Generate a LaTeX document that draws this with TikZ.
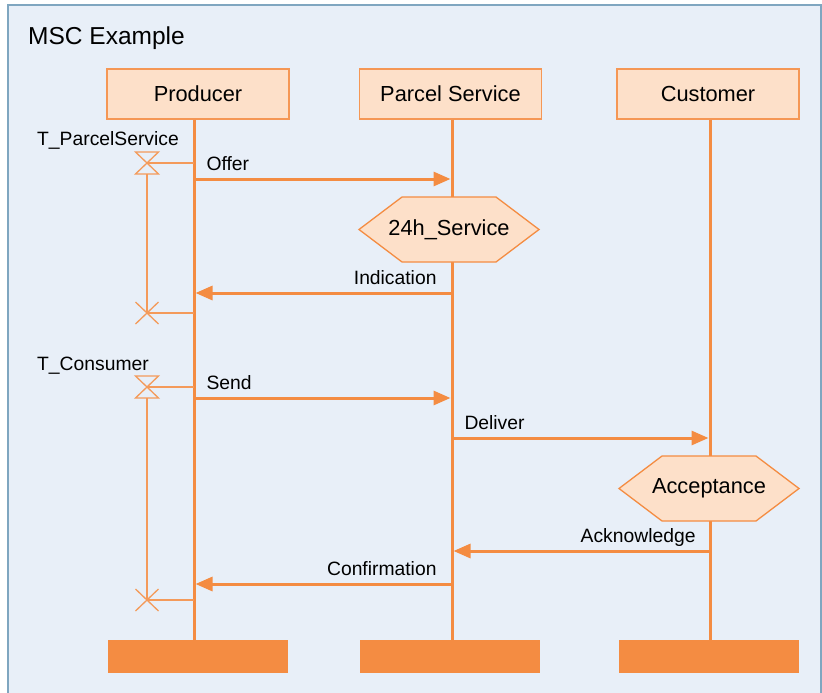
\documentclass[tikz,border=0pt]{standalone}
\usepackage{fontspec}
\setmainfont{Liberation Sans}
\usetikzlibrary{positioning,arrows.meta}

\definecolor{mscbg}{HTML}{E8EFF8}
\definecolor{mscframe}{HTML}{7FA6C0}
\definecolor{mscorange}{HTML}{F48C42}
\definecolor{mscpeach}{HTML}{FDE0C9}
\definecolor{msctimer}{HTML}{F49A5A}

\tikzset{
  head/.style={draw=mscorange!90,fill=mscpeach,line width=1.5pt,minimum width=182,minimum height=50,inner sep=0,font=\fontsize{21.8}{24}\selectfont},
  stop/.style={fill=mscorange,minimum width=180,minimum height=33,inner sep=0},
  life/.style={draw=mscorange,line width=3pt},
  msg/.style={draw=mscorange,line width=3pt,-{Triangle[length=17pt,width=14pt]},shorten >=1.5pt},
  cond/.style={draw=mscorange,fill=mscpeach,line width=1.3pt,line join=miter},
  condtxt/.style={inner sep=0,font=\fontsize{21.8}{24}\selectfont},
  tmr/.style={draw=msctimer,line width=1.3pt},
  lbl/.style={inner sep=0,font=\fontsize{19.3}{22}\selectfont}
}

\begin{document}
\begin{tikzpicture}[x=1pt,y=-1pt]
  \useasboundingbox (0,0) rectangle (822,693);
  \draw[draw=mscframe,fill=mscbg,line width=1.2pt] (8,5) rectangle (821,696);
  \node[anchor=base west,inner sep=0,font=\fontsize{24.5}{28}\selectfont] (title) at (28,45) {MSC Example};

  % instances
  \node[head] (prod) at (198,94) {Producer};
  \node[head] (parc) at (450.5,94) {Parcel Service};
  \node[head] (cust) at (708,94) {Customer};
  \node[stop] (prodE) at (198,656.5) {};
  \node[stop] (parcE) at (450,656.5) {};
  \node[stop] (custE) at (709,656.5) {};
  \coordinate (pl) at (194,0);
  \coordinate (sl) at (452,0);
  \coordinate (cl) at (710,0);
  \draw[life] (prod.south -| pl) -- (prodE.north -| pl);
  \draw[life] (parc.south -| sl) -- (parcE.north -| sl);
  \draw[life] (cust.south -| cl) -- (custE.north -| cl);

  % conditions
  \coordinate (svc) at (449,229.5);
  \coordinate (acc) at (709,488.5);
  \filldraw[cond] (svc) ++(-90,0) -- ++(43,-32.5) -- ++(94,0) -- ++(43,32.5) -- ++(-43,32.5) -- ++(-94,0) -- cycle;
  \filldraw[cond] (acc) ++(-90,0) -- ++(43,-32.5) -- ++(94,0) -- ++(43,32.5) -- ++(-43,32.5) -- ++(-94,0) -- cycle;
  \node[condtxt] (svcT) at (svc) {24h\_Service};
  \node[condtxt] (accT) at (acc) {Acceptance};

  % messages
  \coordinate (p1) at (194,179);  \coordinate (s1) at (452,179);
  \coordinate (s2) at (452,293);  \coordinate (p2) at (194,293);
  \coordinate (p3) at (194,398);  \coordinate (s3) at (452,398);
  \coordinate (s4) at (452,438);  \coordinate (c4) at (710,438);
  \coordinate (c5) at (710,551);  \coordinate (s5) at (452,551);
  \coordinate (s6) at (452,584);  \coordinate (p6) at (194,584);
  \draw[msg] (p1) -- (s1) node[lbl,pos=0,anchor=base west,xshift=11pt,yshift=9pt] {Offer};
  \draw[msg] (s2) -- (p2) node[lbl,pos=0,anchor=base east,xshift=-14pt,yshift=9pt] {Indication};
  \draw[msg] (p3) -- (s3) node[lbl,pos=0,anchor=base west,xshift=11pt,yshift=9pt] {Send};
  \draw[msg] (s4) -- (c4) node[lbl,pos=0,anchor=base west,xshift=11pt,yshift=9pt] {Deliver};
  \draw[msg] (c5) -- (s5) node[lbl,pos=0,anchor=base east,xshift=-13pt,yshift=9pt] {Acknowledge};
  \draw[msg] (s6) -- (p6) node[lbl,pos=0,anchor=base east,xshift=-14pt,yshift=9pt] {Confirmation};

  % timers
  \node[lbl,anchor=base west] (t1lbl) at (37,145) {T\_ParcelService};
  \node[lbl,anchor=base west] (t2lbl) at (37,370) {T\_Consumer};
  \coordinate (t1) at (147,163);  \coordinate (t1x) at (147,313);
  \coordinate (t2) at (147,387);  \coordinate (t2x) at (147,600);
  \draw[tmr] (t1) ++(-11.5,-11) -- ++(23,0) -- ++(-23,22) -- ++(23,0) -- cycle;
  \draw[tmr] (t2) ++(-11.5,-11) -- ++(23,0) -- ++(-23,22) -- ++(23,0) -- cycle;
  \draw[tmr] (t1x) ++(-11.5,-11) -- ++(23,22) (t1x) ++(11.5,-11) -- ++(-23,22);
  \draw[tmr] (t2x) ++(-11.5,-11) -- ++(23,22) (t2x) ++(11.5,-11) -- ++(-23,22);
  \draw[tmr] (t1) -- (t1 -| pl);
  \draw[tmr] (t2) -- (t2 -| pl);
  \draw[tmr] ([yshift=-11pt]t1) -- (t1x);
  \draw[tmr] ([yshift=-11pt]t2) -- (t2x);
  \draw[tmr] (t1x) -- (t1x -| pl);
  \draw[tmr] (t2x) -- (t2x -| pl);
\end{tikzpicture}
\end{document}
